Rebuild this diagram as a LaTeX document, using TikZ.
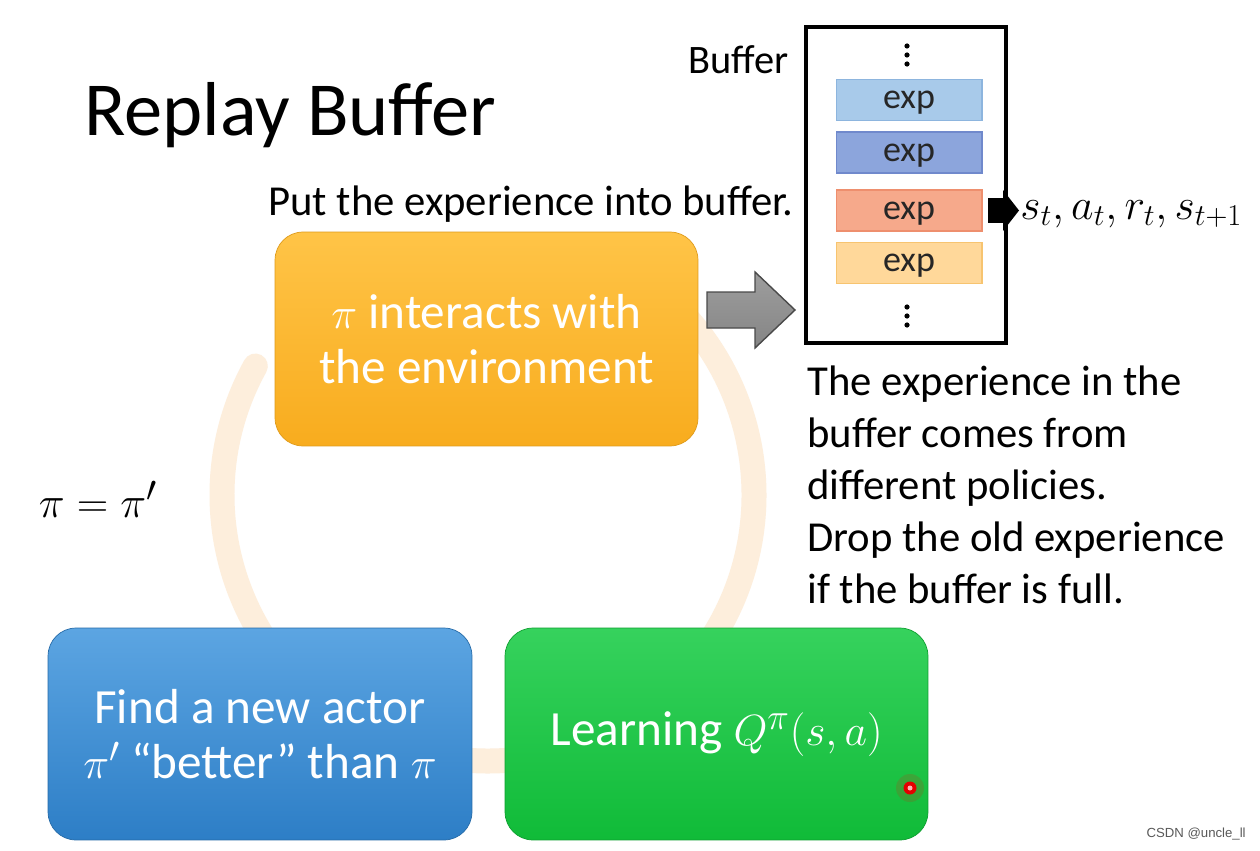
\documentclass[tikz,border=0pt]{standalone}
\usepackage{fontspec}
\setmainfont{Carlito}
\newfontfamily\wmfont{Liberation Sans}
\usetikzlibrary{shadings}
\definecolor{ringc}{HTML}{FDEEDC}
\definecolor{orT}{HTML}{FFC447}
\definecolor{orB}{HTML}{F8AC1E}
\definecolor{blT}{HTML}{5CA5E2}
\definecolor{blB}{HTML}{2D7EC6}
\definecolor{grT}{HTML}{36D25D}
\definecolor{grB}{HTML}{10BB38}
\definecolor{expA}{HTML}{A8CAEA}
\definecolor{expAd}{HTML}{8DB5DE}
\definecolor{expB}{HTML}{8CA5DC}
\definecolor{expBd}{HTML}{7089CC}
\definecolor{expC}{HTML}{F6A98B}
\definecolor{expCd}{HTML}{EE8F6E}
\definecolor{expD}{HTML}{FFD89A}
\definecolor{expDd}{HTML}{F7C470}
\definecolor{arrG}{HTML}{858585}
\definecolor{arrGd}{HTML}{4A4A4A}
\tikzset{
  procbox/.style={rounded corners=0.56cm, text=white, align=center,
    font=\fontsize{28}{31.3}\selectfont, inner sep=0pt},
  expbox/.style={minimum width=2.92cm, minimum height=0.82cm, inner sep=0pt,
    text depth=0pt, font=\fontsize{20.5}{22}\selectfont, text=black!85, line width=0.6pt},
  bodytext/.style={font=\fontsize{24.3}{29.6}\selectfont, inner sep=0pt}
}
\begin{document}
\begin{tikzpicture}[x=0.02cm,y=-0.02cm]
\useasboundingbox[fill=white] (0,0) rectangle (1260,851);
% cycle ring (partly hidden behind the boxes)
\coordinate (rc) at (488,495);
\draw[ringc, line width=0.5cm, line cap=round] ([shift={(-50:266)}]rc) arc [start angle=-50, end angle=209, radius=266];
% title
\node[anchor=west, font=\fontsize{43.5}{47}\selectfont, inner sep=0pt] (title) at (84,115) {Replay Buffer};
% process boxes
\node[procbox, top color=orT, bottom color=orB, draw=orB!90!black, line width=0.4pt,
  minimum width=8.46cm, minimum height=4.28cm] (env) at (486.5,339)
  {$\pi$ interacts with\\the environment};
\node[procbox, top color=blT, bottom color=blB, draw=blB!85!black, line width=0.4pt,
  minimum width=8.48cm, minimum height=4.24cm] (actor) at (260,734)
  {Find a new actor\\$\pi'$ ``better'' than $\pi$};
\node[procbox, top color=grT, bottom color=grB, draw=grB!85!black, line width=0.4pt,
  minimum width=8.46cm, minimum height=4.24cm] (learn) at (716.5,734)
  {Learning $Q^{\pi}(s,a)$};
% pi = pi'
\node[font=\fontsize{28}{30}\selectfont, inner sep=0pt] (upd) at (98,499) {$\pi=\pi'$};
% buffer
\node[draw=black, line width=2.4pt, minimum width=4cm, minimum height=6.32cm, inner sep=0pt] (buf) at (906,185) {};
\node[anchor=east, font=\fontsize{23}{26}\selectfont, inner sep=0pt] (buflabel) at (789,60) {Buffer};
\node[expbox, fill=expA, draw=expAd] (e1) at (909,100) {exp};
\node[expbox, fill=expB, draw=expBd] (e2) at (909,152.5) {exp};
\node[expbox, fill=expC, draw=expCd] (e3) at (909,210.5) {exp};
\node[expbox, fill=expD, draw=expDd] (e4) at (909,263) {exp};
\foreach \yy in {46,55,64, 307,316,325} \fill (907,\yy) circle [radius=2.6];
% output arrow
\fill (988,198) rectangle (1004,223);
\fill (1003,190) -- (1019,210.5) -- (1003,231) -- cycle;
\node[anchor=west, font=\fontsize{24}{26}\selectfont, inner sep=0pt] (tuple) at (1020,214) {$s_t, a_t, r_t, s_{t+1}$};
% put text
\node[bodytext, anchor=east] (put) at (794,204) {Put the experience into buffer.};
% gray block arrow
\draw[arrGd, line width=0.8pt, top color=arrG!80, bottom color=arrG] (707,292) -- (755,292) -- (755,272) -- (795,310) -- (755,348) -- (755,328) -- (707,328) -- cycle;
% right text
\node[bodytext, anchor=north west, align=left] (note) at (807,365)
  {The experience in the\\buffer comes from\\different policies.\\Drop the old experience\\if the buffer is full.};
% laser pointer dot
\fill[red, opacity=0.15] (910,788) circle [radius=14];
\fill[red!90!black] (910,788) circle [radius=6.5];
\fill[red!30] (910,788) circle [radius=2.5];
% watermark
\node[anchor=east, font=\wmfont\fontsize{7.5}{9}\selectfont, text=black!65, inner sep=0pt] (wm) at (1246,834) {CSDN @uncle\_ll};
\end{tikzpicture}
\end{document}
